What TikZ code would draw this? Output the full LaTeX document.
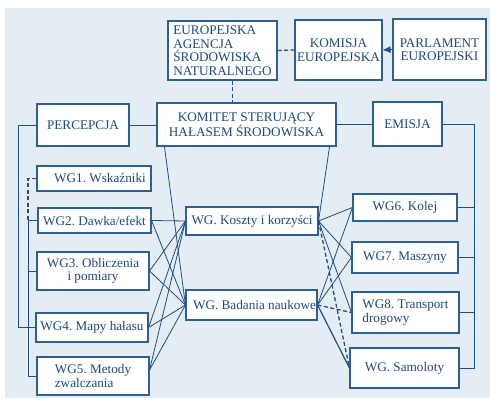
\documentclass[tikz,border=0pt]{standalone}
\usepackage{fontspec}
\setmainfont{Liberation Serif}
\usetikzlibrary{arrows.meta,calc}
\definecolor{bgblue}{HTML}{E4ECF4}
\definecolor{boxline}{HTML}{2E5F97}
\definecolor{wire}{HTML}{1F4E88}
\definecolor{ink}{HTML}{1E4A7E}
\frenchspacing
\begin{document}
\begin{tikzpicture}[x=1pt,y=-1pt,>={Latex[length=8pt,width=7pt]},
    box/.style={draw=boxline,line width=1.1pt,fill=white,text=ink,inner sep=0pt,
      font=\fontsize{13.2}{13.5}\selectfont},
    wire/.style={draw=wire,line width=0.8pt},
    dashwire/.style={wire,line width=1.3pt,dash pattern=on 4pt off 2.5pt}]
    \useasboundingbox (0,0) rectangle (490,403);
    \fill[bgblue] (5,8) rectangle (490,398);
    % top row
    \node[box,align=left,minimum width=109,minimum height=59] (eea) at (222.5,50.5) {EUROPEJSKA\\AGENCJA\\ŚRODOWISKA\\NATURALNEGO};
    \node[box,align=center,minimum width=87,minimum height=60] (kom) at (338.5,50) {KOMISJA\\EUROPEJSKA};
    \node[box,align=center,minimum width=93,minimum height=61] (parl) at (439.5,49.5) {PARLAMENT\\EUROPEJSKI};
    % second row
    \node[box,minimum width=92,minimum height=42] (perc) at (83,125) {PERCEPCJA};
    \node[box,align=center,minimum width=179,minimum height=43] (komitet) at (246.5,124.5) {KOMITET STERUJĄCY\\HAŁASEM ŚRODOWISKA};
    \node[box,minimum width=69,minimum height=44] (emisja) at (407.5,124) {EMISJA};
    % left groups
    \node[box,minimum width=114,minimum height=25] (wg1) at (94,178.5) {\hspace*{12pt}WG1. Wskaźniki};
    \node[box,minimum width=113,minimum height=25] (wg2) at (94.5,220.5) {WG2. Dawka/efekt};
    \node[box,align=center,minimum width=112,minimum height=38] (wg3) at (93,271) {WG3. Obliczenia\\i pomiary};
    \node[box,minimum width=112,minimum height=29] (wg4) at (92,327.5) {WG4. Mapy hałasu};
    \node[box,align=left,minimum width=112,minimum height=38] (wg5) at (93,376) {WG5. Metody\\zwalczania};
    % middle groups
    \node[box,minimum width=132,minimum height=28] (koszty) at (252,221) {WG. Koszty i korzyści};
    \node[box,minimum width=131,minimum height=30] (badania) at (251.5,305) {\hspace*{6pt}WG. Badania naukowe};
    % right groups
    \node[box,minimum width=104,minimum height=27] (wg6) at (405,207.5) {WG6. Kolej};
    \node[box,minimum width=106,minimum height=31] (wg7) at (405,257.5) {WG7. Maszyny};
    \node[box,align=left,minimum width=107,minimum height=41] (wg8) at (405.5,312.5) {WG8. Transport\\drogowy};
    \node[box,minimum width=109,minimum height=40] (samol) at (404.5,368) {WG. Samoloty};
    % top links
    \draw[dashwire] (eea.east) -- (kom.west);
    \draw[wire,->] (parl.west) -- (kom.east);
    \coordinate (eeadrop) at ($(eea.south)+(10,0)$);
    \draw[dashwire] (eeadrop) -- (eeadrop |- komitet.north);
    \draw[wire] (perc.east) -- (perc.east -| komitet.west);
    \draw[wire] (komitet.east |- emisja.west) -- (emisja.west);
    \draw[wire] ($(komitet.south west)+(8,0)$) -- (badania.west);
    \draw[wire] ($(komitet.south east)+(-7,0)$) -- (koszty.east);
    % left tree
    \coordinate (lbus) at (28,0);
    \draw[wire] (perc.west) -- ++(-18,0) |- (wg4.west);
    \draw[dashwire] (wg1.west) -- (lbus |- wg1.west) -- (lbus |- wg2.west);
    \draw[wire] (wg2.west) -- (lbus |- wg2.west) |- (wg5.west);
    \draw[wire] (wg3.west) -- (lbus |- wg3.west);
    % right tree
    \coordinate (rbus) at (474,0);
    \draw[wire] (emisja.east) -| (rbus |- samol.east) -- (samol.east);
    \foreach \n in {wg6,wg7,wg8}
      \draw[wire] (\n.east) -- (rbus |- \n.east);
    % working group links
    \coordinate (wg5out) at ($(wg5.east)+(0,-6)$);
    \foreach \s in {wg2.east,wg3.east,wg4.east,wg5out}
      \foreach \t in {koszty,badania}
        \draw[wire] (\s) -- (\t.west);
    \foreach \s/\t in {koszty/wg6,koszty/wg7,koszty/wg8,badania/wg6,badania/wg7}
      \draw[wire] (\s.east) -- (\t.west);
    \draw[wire,line width=1.2pt] (badania.east) -- (samol.west);
    \draw[dashwire] (koszty.east) -- (samol.west);
    \draw[dashwire] (badania.east) -- (wg8.west);
\end{tikzpicture}
\end{document}
